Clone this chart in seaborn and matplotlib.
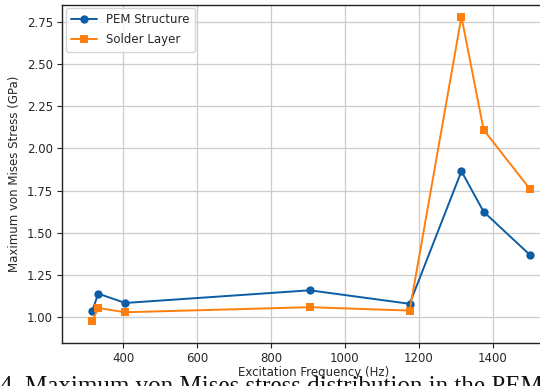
import numpy as np
import pandas as pd
import matplotlib
matplotlib.use("Agg")
import matplotlib.pyplot as plt
import seaborn as sns

# ---- Data ----
freq = [317, 333, 406, 905, 1175, 1315, 1375, 1500]
pem_stress = [1.04, 1.14, 1.085, 1.16, 1.08, 1.865, 1.625, 1.37]
solder_stress = [0.98, 1.055, 1.03, 1.06, 1.04, 2.78, 2.11, 1.76]
series_names = ["PEM Structure", "Solder Layer"]
y_ticks = [1.00, 1.25, 1.50, 1.75, 2.00, 2.25, 2.50, 2.75]
x_ticks = [400, 600, 800, 1000, 1200, 1400]
caption = "4. Maximum von Mises stress distribution in the PEM"

# ---- Style ----
sns.set_style("whitegrid")
plt.rcParams["font.family"] = ["DejaVu Sans"]
plt.rcParams["xtick.major.size"] = 3.5
plt.rcParams["ytick.major.size"] = 3.5
plt.rcParams["xtick.bottom"] = True
plt.rcParams["ytick.left"] = True

fig = plt.figure(figsize=(5.4, 3.86), dpi=100)
W, H = 540, 386
# axes box runs past the right edge, as in the cropped reference
ax = fig.add_axes([62 / W, (H - 343) / H, (565 - 62) / W, (343 - 4.5) / H])

sns.lineplot(x=freq, y=pem_stress, ax=ax, color="#0C5DA5", marker="o",
             markersize=6, markeredgewidth=0, linewidth=1.4, label=series_names[0])
sns.lineplot(x=freq, y=solder_stress, ax=ax, color="#FF7F0E", marker="s",
             markersize=6, markeredgewidth=0, linewidth=1.4, label=series_names[1])

ax.set_xlim(235, 1595)
ax.set_ylim(0.848, 2.852)
ax.set_xticks(x_ticks)
ax.set_yticks(y_ticks)
ax.yaxis.set_major_formatter(matplotlib.ticker.FormatStrFormatter("%.2f"))

ax.grid(True, color="#cccccc", linewidth=0.9)
for side in ["left", "bottom", "top"]:
    ax.spines[side].set_color("#222222")
    ax.spines[side].set_linewidth(1.0)
ax.spines["right"].set_visible(False)
ax.tick_params(axis="both", which="major", length=3.5, width=0.8, color="#222222",
               labelsize=8.5, direction="out", bottom=True, left=True, pad=3)

ax.set_xlabel("Excitation Frequency (Hz)", fontsize=8.5, labelpad=0.5)
ax.set_ylabel("Maximum von Mises Stress (GPa)", fontsize=8.5, labelpad=4)

leg = ax.legend(loc="upper left", fontsize=8.5, frameon=True, handlelength=2.2,
                borderpad=0.45, labelspacing=0.6, borderaxespad=0.3)
leg.get_frame().set_edgecolor("#cccccc")

# ---- Caption of the page, cut by the crop ----
fig.text(0.0, (H - 376) / H, caption, family=["Liberation Serif"], fontsize=18,
         ha="left", va="top", color="#111111")

fig.savefig("out.png", dpi=100)
